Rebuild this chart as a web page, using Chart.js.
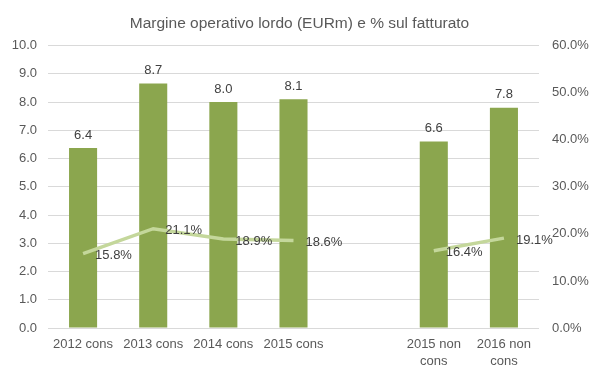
<!DOCTYPE html>
<html>
<head>
<meta charset="utf-8">
<script src="https://cdn.jsdelivr.net/npm/chart.js@4"></script>
<style>
html,body{margin:0;padding:0;background:#fff;}
#c{display:block;}
</style>
</head>
<body>
<canvas id="c" width="599" height="378"></canvas>
<script>
const categories = ["2012 cons", "2013 cons", "2014 cons", "2015 cons", "", ["2015 non", "cons"], ["2016 non", "cons"]];
const ebitdaValues = [6.37, 8.66, 8.0, 8.1, null, 6.6, 7.8];
const marginPct = [15.8, 21.1, 18.9, 18.6, null, 16.4, 19.1];
const leftTicks = [0, 1, 2, 3, 4, 5, 6, 7, 8, 9, 10];
const rightTicks = [0, 10, 20, 30, 40, 50, 60];
const titleText = "Margine operativo lordo (EURm) e % sul fatturato";

const labelFont = '13px "Liberation Sans", Arial, sans-serif';
const textColor = '#595959';

const valueLabels = {
  id: 'valueLabels',
  afterDatasetsDraw(chart) {
    const ctx = chart.ctx;
    ctx.save();
    ctx.font = labelFont;
    ctx.fillStyle = '#404040';
    const barMeta = chart.getDatasetMeta(1);
    barMeta.data.forEach((el, i) => {
      const v = ebitdaValues[i];
      if (v == null) return;
      ctx.textAlign = 'center';
      ctx.textBaseline = 'middle';
      ctx.fillText(v.toFixed(1), el.x, el.y - 13);
    });
    const lineMeta = chart.getDatasetMeta(0);
    lineMeta.data.forEach((el, i) => {
      const v = marginPct[i];
      if (v == null) return;
      ctx.textAlign = 'left';
      ctx.textBaseline = 'middle';
      ctx.fillText(v.toFixed(1) + '%', el.x + 12, el.y + 2);
    });
    ctx.restore();
  }
};

new Chart(document.getElementById('c'), {
  data: {
    labels: categories,
    datasets: [
      {
        type: 'line',
        label: '% sul fatturato',
        data: marginPct,
        yAxisID: 'y1',
        borderColor: '#c4d79b',
        borderWidth: 3.5,
        pointRadius: 0,
        pointHoverRadius: 0,
        tension: 0,
        spanGaps: false,
        order: 0
      },
      {
        type: 'bar',
        label: 'EURm',
        data: ebitdaValues,
        yAxisID: 'y',
        backgroundColor: '#8ba64e',
        barPercentage: 0.4,
        categoryPercentage: 1.0,
        order: 1
      }
    ]
  },
  options: {
    responsive: false,
    animation: false,
    devicePixelRatio: 1,
    layout: { padding: 0 },
    plugins: {
      legend: { display: false },
      tooltip: { enabled: false },
      title: {
        display: true,
        text: titleText,
        color: textColor,
        font: { family: '"Liberation Sans", Arial, sans-serif', size: 15.5, weight: 'normal' },
        padding: { top: 14, bottom: 13 }
      }
    },
    scales: {
      x: {
        grid: { display: false, drawTicks: false },
        border: { display: false },
        ticks: {
          color: textColor,
          font: { family: '"Liberation Sans", Arial, sans-serif', size: 13, lineHeight: 1.3 },
          padding: 8,
          maxRotation: 0,
          autoSkip: false
        },
        afterFit(s) { s.height = 50; }
      },
      y: {
        position: 'left',
        min: 0,
        max: 10,
        afterBuildTicks(s) { s.ticks = leftTicks.map(v => ({ value: v })); },
        grid: { color: '#d9d9d9', lineWidth: 1, drawTicks: false },
        border: { display: false },
        ticks: {
          color: textColor,
          font: { family: '"Liberation Sans", Arial, sans-serif', size: 13 },
          padding: 11,
          callback: v => Number(v).toFixed(1)
        },
        afterFit(s) { s.width = 48; }
      },
      y1: {
        position: 'right',
        min: 0,
        max: 60,
        afterBuildTicks(s) { s.ticks = rightTicks.map(v => ({ value: v })); },
        grid: { display: false, drawTicks: false },
        border: { display: false },
        ticks: {
          color: textColor,
          font: { family: '"Liberation Sans", Arial, sans-serif', size: 13 },
          padding: 13,
          callback: v => Number(v).toFixed(1) + '%'
        },
        afterFit(s) { s.width = 60; }
      }
    }
  },
  plugins: [valueLabels]
});
</script>
</body>
</html>
